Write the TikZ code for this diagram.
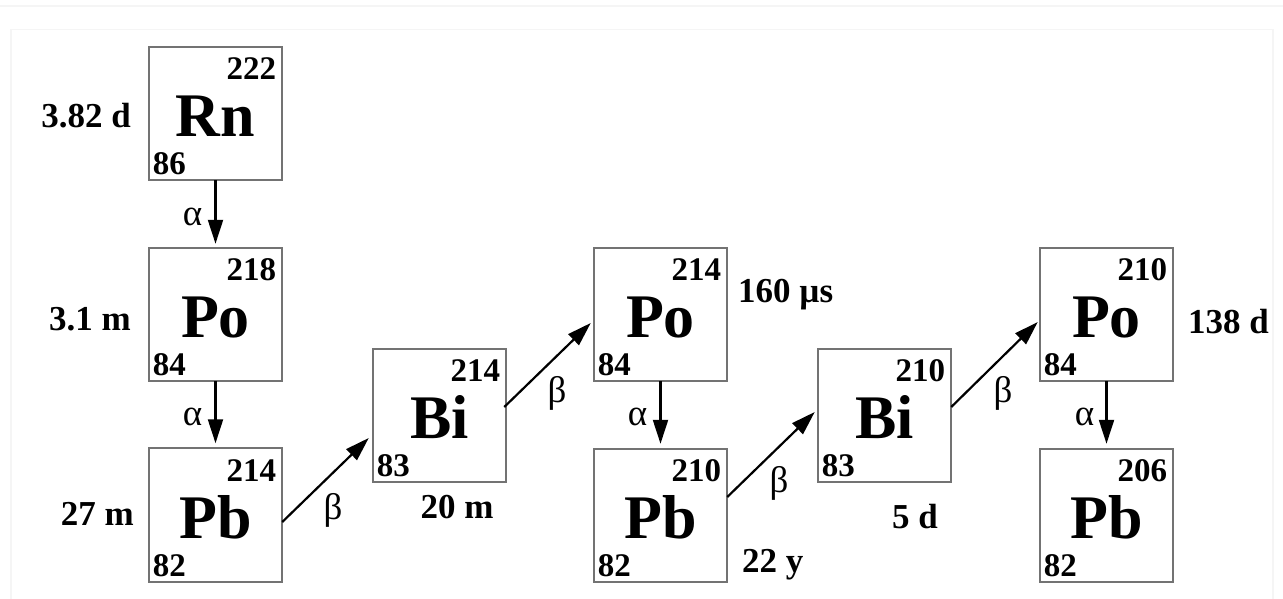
\documentclass[tikz,border=0pt]{standalone}
\usepackage{fontspec}
\setmainfont{Liberation Serif}
\usetikzlibrary{arrows.meta}
\tikzset{
  nbox/.style={draw=black!55, line width=1.6pt, minimum size=133.5pt, inner sep=0pt, outer sep=0pt},
  sym/.style={font=\fontsize{62}{62}\selectfont\bfseries, inner sep=0pt},
  num/.style={font=\fontsize{33}{33}\selectfont\bfseries, inner sep=0pt},
  hl/.style={font=\fontsize{35}{35}\selectfont\bfseries, inner sep=0pt},
  gk/.style={font=\fontsize{37}{37}\selectfont, inner sep=0pt, anchor=base},
  arr/.style={line width=2.2pt, -{Triangle[length=24pt,width=15pt]}},
  frame/.style={draw=black!4, line width=1.5pt}
}
\newcommand{\nuc}[6]{%
  \node[nbox] (#1) at (#2,#3) {};
  \node[sym, anchor=base] (#1s) at ([yshift=-23pt]#1.center) {#4};
  \node[num, anchor=base east] (#1a) at ([xshift=-6pt,yshift=-33pt]#1.north east) {#5};
  \node[num, anchor=base west] (#1z) at ([xshift=4pt,yshift=5.5pt]#1.south west) {#6};
}
\begin{document}
\begin{tikzpicture}[x=1pt,y=-1pt]
\useasboundingbox (0,0) rectangle (1283,599);
\fill[white] (0,0) rectangle (1283,599);
\draw[frame] (0,6) -- (1283,6);
\draw[frame] (11,605) -- (11,29.5) -- (1273,29.5) -- (1273,605);

\nuc{rn}{215.5}{113.5}{Rn}{222}{86}
\nuc{poa}{215.5}{314.5}{Po}{218}{84}
\nuc{pba}{215.5}{515}{Pb}{214}{82}
\nuc{bia}{439.5}{415.5}{Bi}{214}{83}
\nuc{pob}{660.5}{314.5}{Po}{214}{84}
\nuc{pbb}{660.5}{515.5}{Pb}{210}{82}
\nuc{bib}{884.5}{415.5}{Bi}{210}{83}
\nuc{poc}{1106.5}{314.5}{Po}{210}{84}
\nuc{pbc}{1106.5}{515.5}{Pb}{206}{82}

% half-lives
\node[hl, anchor=base east] (trn) at (131,128) {3.82 d};
\node[hl, anchor=base east] (tpoa) at (131,330) {3.1 m};
\node[hl, anchor=base east] (tpba) at (134,525) {27 m};
\node[hl, anchor=base] (tbia) at (457,518) {20 m};
\node[hl, anchor=base west] (tpob) at (738,302) {160 µs};
\node[hl, anchor=base west] (tpbb) at (742,572) {22 y};
\node[hl, anchor=base] (tbib) at (915,528) {5 d};
\node[hl, anchor=base west] (tpoc) at (1188,333) {138 d};

% alpha decays
\draw[arr] (rn.south) -- ([yshift=4pt]poa.north);
\draw[arr] (poa.south) -- ([yshift=5pt]pba.north);
\draw[arr] (pob.south) -- ([yshift=5pt]pbb.north);
\draw[arr] (poc.south) -- ([yshift=5pt]pbc.north);
\node[gk] (a1) at (192.5,225) {α};
\node[gk] (a2) at (192.5,425) {α};
\node[gk] (a3) at (637.5,425) {α};
\node[gk] (a4) at (1084.5,425) {α};

% beta decays
\draw[arr] ([yshift=-7pt]pba.east) -- ([xshift=-4pt,yshift=-22.5pt]bia.west);
\draw[arr] ([xshift=-2pt,yshift=8.5pt]bia.east) -- ([xshift=-3pt,yshift=-8.5pt]pob.west);
\draw[arr] ([yshift=18.5pt]pbb.east) -- ([xshift=-3pt,yshift=3.5pt]bib.west);
\draw[arr] ([yshift=8.5pt]bib.east) -- ([xshift=-2pt,yshift=-7.5pt]poc.west);
\node[gk] (b1) at (333,519) {β};
\node[gk] (b2) at (557,402) {β};
\node[gk] (b3) at (779,492) {β};
\node[gk] (b4) at (1003,402) {β};
\end{tikzpicture}
\end{document}
